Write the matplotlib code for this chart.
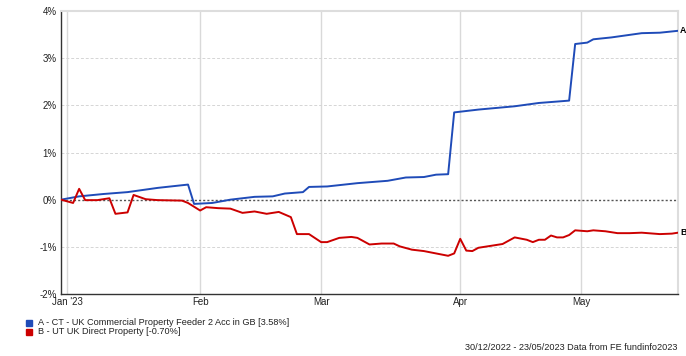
import numpy as np
import pandas as pd
import matplotlib
matplotlib.use("Agg")
import matplotlib.pyplot as plt

plt.rcParams['font.family'] = ['Liberation Sans', 'DejaVu Sans']

START = "2022-12-30"

a_dates = ["2022-12-30", "2023-01-04", "2023-01-10", "2023-01-16", "2023-01-23", "2023-01-30",
           "2023-01-31", "2023-02-03", "2023-02-08", "2023-02-14", "2023-02-17", "2023-02-21",
           "2023-02-24", "2023-02-27", "2023-03-02", "2023-03-09", "2023-03-16", "2023-03-21",
           "2023-03-24", "2023-03-28", "2023-03-30", "2023-03-31", "2023-04-06", "2023-04-14",
           "2023-04-20", "2023-04-27", "2023-04-28", "2023-05-02", "2023-05-03", "2023-05-08",
           "2023-05-15", "2023-05-18", "2023-05-23"]
a_values = [0.0, 0.07, 0.12, 0.16, 0.25, 0.32,
            -0.09, -0.07, 0.0, 0.06, 0.07, 0.13,
            0.16, 0.27, 0.28, 0.35, 0.40, 0.47,
            0.48, 0.53, 0.54, 1.85, 1.91, 1.98,
            2.05, 2.10, 3.30, 3.33, 3.40, 3.44,
            3.53, 3.54, 3.58]

b_dates = ["2022-12-30", "2023-01-03", "2023-01-04", "2023-01-05", "2023-01-09", "2023-01-11",
           "2023-01-12", "2023-01-16", "2023-01-17", "2023-01-19", "2023-01-23", "2023-01-27",
           "2023-01-30", "2023-02-01", "2023-02-02", "2023-02-06", "2023-02-08", "2023-02-10",
           "2023-02-14", "2023-02-16", "2023-02-20", "2023-02-22", "2023-02-23", "2023-02-27",
           "2023-03-01", "2023-03-02", "2023-03-06", "2023-03-08", "2023-03-09", "2023-03-13",
           "2023-03-15", "2023-03-17", "2023-03-20", "2023-03-22", "2023-03-24", "2023-03-28",
           "2023-03-30", "2023-03-31", "2023-04-03", "2023-04-04", "2023-04-05", "2023-04-06",
           "2023-04-12", "2023-04-14", "2023-04-18", "2023-04-19", "2023-04-20", "2023-04-21",
           "2023-04-24", "2023-04-25", "2023-04-26", "2023-04-27", "2023-04-28", "2023-05-01",
           "2023-05-02", "2023-05-03", "2023-05-05", "2023-05-09", "2023-05-11", "2023-05-15",
           "2023-05-16", "2023-05-18", "2023-05-22", "2023-05-23"]
b_values = [0.0, -0.07, 0.23, -0.01, -0.01, 0.03,
            -0.30, -0.27, 0.10, 0.01, -0.01, -0.02,
            -0.07, -0.23, -0.16, -0.18, -0.19, -0.28,
            -0.25, -0.30, -0.26, -0.37, -0.73, -0.73,
            -0.90, -0.90, -0.81, -0.79, -0.81, -0.95,
            -0.93, -0.93, -0.99, -1.06, -1.09, -1.14,
            -1.19, -1.14, -0.83, -1.08, -1.09, -1.02,
            -0.94, -0.80, -0.85, -0.90, -0.85, -0.85,
            -0.76, -0.80, -0.80, -0.75, -0.65, -0.66,
            -0.67, -0.65, -0.67, -0.71, -0.71, -0.70,
            -0.71, -0.73, -0.72, -0.70]

month_ticks = ["2023-01-02", "2023-02-01", "2023-03-01", "2023-04-03", "2023-05-01"]
month_labels = ["Jan '23", "Feb", "Mar", "Apr", "May"]
y_ticks = [-2, -1, 0, 1, 2, 3, 4]

legend_labels = ["A - CT - UK Commercial Property Feeder 2 Acc in GB [3.58%]",
                 "B - UT UK Direct Property [-0.70%]"]
colors = ["#1f4bb8", "#cc0000"]
footer = "30/12/2022 - 23/05/2023 Data from FE fundinfo2023"
END = "2023-05-23"

FS = 6.6


def bidx(dates):
    d = np.array(dates, dtype="datetime64[D]")
    return np.busday_count(np.datetime64(START), d)


fig = plt.figure(figsize=(6.86, 3.56), dpi=100)
ax = fig.add_axes([61 / 686, 1 - 294 / 356, (678 - 61) / 686, (294 - 11) / 356])

xa = bidx(a_dates)
xb = bidx(b_dates)
xend = bidx([END])[0]

ax.set_xlim(0, xend)
ax.set_ylim(-2, 4)

# grid
for t in bidx(month_ticks):
    ax.axvline(t, color="#d9d9d9", lw=1.0, zorder=0)
for y in y_ticks:
    if y == 0:
        ax.axhline(0, color="#555555", lw=1.0, ls=(0, (1.5, 1.5)), zorder=1)
    else:
        ax.axhline(y, color="#d5d5d5", lw=0.7, ls=(0, (3, 2)), zorder=0)

ax.plot(xa, a_values, color=colors[0], lw=1.4, zorder=3)
ax.plot(xb, b_values, color=colors[1], lw=1.4, zorder=3)

ax.annotate("A", (xend, a_values[-1]), xytext=(1.5, 0), textcoords="offset points",
            fontsize=6.3, fontweight="bold", va="center", ha="left", annotation_clip=False)
ax.annotate("B", (xend, b_values[-1]), xytext=(1.5, 0), textcoords="offset points",
            fontsize=6.3, fontweight="bold", va="center", ha="left", annotation_clip=False)

ax.set_xticks(bidx(month_ticks))
ax.set_xticklabels(month_labels)
ax.set_yticks(y_ticks)
ax.set_yticklabels([f"{v}%" for v in y_ticks])
ax.tick_params(axis="both", labelsize=FS + 0.4, length=0, colors="#222222", pad=3)
ax.tick_params(axis="x", pad=2)

for s in ["top", "right"]:
    ax.spines[s].set_color("#dddddd")
    ax.spines[s].set_linewidth(1.5)
for s in ["left", "bottom"]:
    ax.spines[s].set_color("#333333")
    ax.spines[s].set_linewidth(1.0)

# legend
for i, (lab, c) in enumerate(zip(legend_labels, colors)):
    yy = 1 - (322.5 + i * 9.5) / 356
    fig.patches.append(plt.Rectangle((26 / 686, yy - 3 / 356), 6 / 686, 6 / 356,
                                     transform=fig.transFigure, color=c))
    fig.text(38 / 686, yy, lab, fontsize=FS, va="center", ha="left", color="#222222")

fig.text(677 / 686, 1 - 348 / 356, footer, fontsize=FS, va="center", ha="right", color="#222222")

fig.savefig("out.png", dpi=100)
